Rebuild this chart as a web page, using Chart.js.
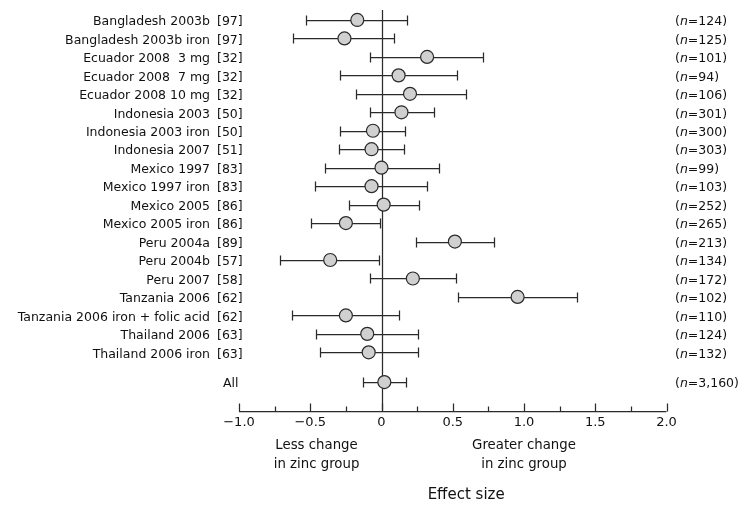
<!DOCTYPE html>
<html><head><meta charset="utf-8">
<script src="https://cdn.jsdelivr.net/npm/chart.js@4/dist/chart.umd.min.js"></script>
<style>html,body{margin:0;padding:0;background:#fff}#wrap{width:741px;height:505px;position:relative}</style>
</head><body><div id="wrap"><canvas id="c" width="741" height="505"></canvas></div>
<script>
// ---- data ----
const studies = ['Bangladesh 2003b','Bangladesh 2003b iron','Ecuador 2008  3 mg','Ecuador 2008  7 mg','Ecuador 2008 10 mg','Indonesia 2003','Indonesia 2003 iron','Indonesia 2007','Mexico 1997','Mexico 1997 iron','Mexico 2005','Mexico 2005 iron','Peru 2004a','Peru 2004b','Peru 2007','Tanzania 2006','Tanzania 2006 iron + folic acid','Thailand 2006','Thailand 2006 iron'];
const refs = ['[97]','[97]','[32]','[32]','[32]','[50]','[50]','[51]','[83]','[83]','[86]','[86]','[89]','[57]','[58]','[62]','[62]','[63]','[63]'];
const effect = [-0.17,-0.26,0.32,0.12,0.20,0.14,-0.06,-0.07,0.00,-0.07,0.015,-0.25,0.515,-0.36,0.22,0.955,-0.25,-0.10,-0.09];
const lower  = [-0.53,-0.62,-0.08,-0.29,-0.18,-0.08,-0.29,-0.295,-0.40,-0.465,-0.23,-0.495,0.24,-0.71,-0.08,0.535,-0.63,-0.46,-0.435];
const upper  = [0.18,0.09,0.71,0.53,0.59,0.37,0.165,0.16,0.40,0.32,0.26,-0.01,0.79,-0.02,0.525,1.375,0.125,0.255,0.255];
const nLabels = ['124','125','101','94','106','301','300','303','99','103','252','265','213','134','172','102','110','124','132'];
const pooledLabel = 'All';
const pooledEffect = 0.02, pooledLower = -0.13, pooledUpper = 0.175;
const pooledN = '3,160';
const xTickValues = [-1,-0.5,0,0.5,1,1.5,2];
const xTickLabels = ['\u22121.0','\u22120.5','0','0.5','1.0','1.5','2.0'];
const xMinorTicks = [-0.75,-0.25,0.25,0.75,1.25,1.75];
const leftNote = ['Less change','in zinc group'];
const rightNote = ['Greater change','in zinc group'];
const xTitle = 'Effect size';

// ---- layout ----
const allRow = studies.length - 1 + 1.61;
const FONT = '"DejaVu Sans", sans-serif';
const INK = '#111';
const LINE = '#2a2a2a';

const rows = studies.map((s,i)=>({x:effect[i], y:i, lo:lower[i], hi:upper[i], name:s, ref:refs[i], n:nLabels[i]}));
rows.push({x:pooledEffect, y:allRow, lo:pooledLower, hi:pooledUpper, name:null, ref:null, n:pooledN, pooled:true});

const forestPlugin = {
  id:'forest',
  beforeDatasetsDraw(chart){
    const ctx = chart.ctx, xs = chart.scales.x, ys = chart.scales.y, ca = chart.chartArea;
    ctx.save();
    ctx.strokeStyle = LINE; ctx.lineWidth = 1.25;
    const x0 = Math.round(xs.getPixelForValue(0))+0.5;
    ctx.beginPath(); ctx.moveTo(x0, ca.top); ctx.lineTo(x0, ca.bottom); ctx.stroke();
    const yb = Math.round(ca.bottom)+0.5;
    ctx.beginPath(); ctx.moveTo(xs.getPixelForValue(-1), yb); ctx.lineTo(xs.getPixelForValue(2), yb); ctx.stroke();
    xTickValues.forEach(v=>{const px=Math.round(xs.getPixelForValue(v))+0.5; ctx.beginPath(); ctx.moveTo(px,yb); ctx.lineTo(px,yb-8); ctx.stroke();});
    xMinorTicks.forEach(v=>{const px=Math.round(xs.getPixelForValue(v))+0.5; ctx.beginPath(); ctx.moveTo(px,yb); ctx.lineTo(px,yb-5); ctx.stroke();});
    rows.forEach(r=>{
      const py = Math.round(ys.getPixelForValue(r.y))+0.5;
      const a = Math.round(xs.getPixelForValue(r.lo))+0.5, b = Math.round(xs.getPixelForValue(r.hi))+0.5;
      ctx.beginPath(); ctx.moveTo(a,py); ctx.lineTo(b,py);
      ctx.moveTo(a,py-5); ctx.lineTo(a,py+5);
      ctx.moveTo(b,py-5); ctx.lineTo(b,py+5);
      ctx.stroke();
    });
    const F = '12.5px '+FONT;
    ctx.fillStyle = INK;
    ctx.font = F;
    ctx.textBaseline = 'middle';
    rows.forEach(r=>{
      const py = ys.getPixelForValue(r.y) + 2;
      if(r.pooled){
        ctx.textAlign='left'; ctx.fillText(pooledLabel, 223, py);
      } else {
        ctx.textAlign='right'; ctx.fillText(r.name, 210, py);
        ctx.textAlign='left'; ctx.fillText(r.ref, 217, py);
      }
      let x = 675;
      ctx.textAlign='left';
      ctx.font = F; ctx.fillText('(', x, py); x += ctx.measureText('(').width;
      ctx.font = 'italic '+F; ctx.fillText('n', x, py); x += ctx.measureText('n').width;
      ctx.font = F; ctx.fillText('=' + r.n + ')', x, py);
    });
    ctx.textAlign='center'; ctx.textBaseline='middle'; ctx.font='13px '+FONT;
    xTickValues.forEach((v,i)=>ctx.fillText(xTickLabels[i], xs.getPixelForValue(v), ca.bottom+12.5));
    const lx = xs.getPixelForValue(-0.456), rx = xs.getPixelForValue(1.0);
    ctx.font='13.3px '+FONT;
    leftNote.forEach((t,i)=>ctx.fillText(t, lx, ca.bottom+35+i*19));
    rightNote.forEach((t,i)=>ctx.fillText(t, rx, ca.bottom+35+i*19));
    ctx.font='15px '+FONT;
    ctx.fillText(xTitle, xs.getPixelForValue(0.594), ca.bottom+85);
    ctx.restore();
  }
};

new Chart(document.getElementById('c'), {
  type:'scatter',
  data:{datasets:[{
    data: rows.map(r=>({x:r.x, y:r.y})),
    pointRadius:6.5, pointHoverRadius:6.5,
    backgroundColor:'#d0d0d0', borderColor:LINE, borderWidth:1.2
  }]},
  options:{
    responsive:false, animation:false, devicePixelRatio:1,
    layout:{padding:{left:239, right:74.5, top:10, bottom:94.5}},
    plugins:{legend:{display:false}, tooltip:{enabled:false}},
    scales:{
      x:{type:'linear', min:-1, max:2, display:false},
      y:{type:'linear', min:-0.54, max:21.15, reverse:true, display:false}
    }
  },
  plugins:[forestPlugin]
});
</script></body></html>
